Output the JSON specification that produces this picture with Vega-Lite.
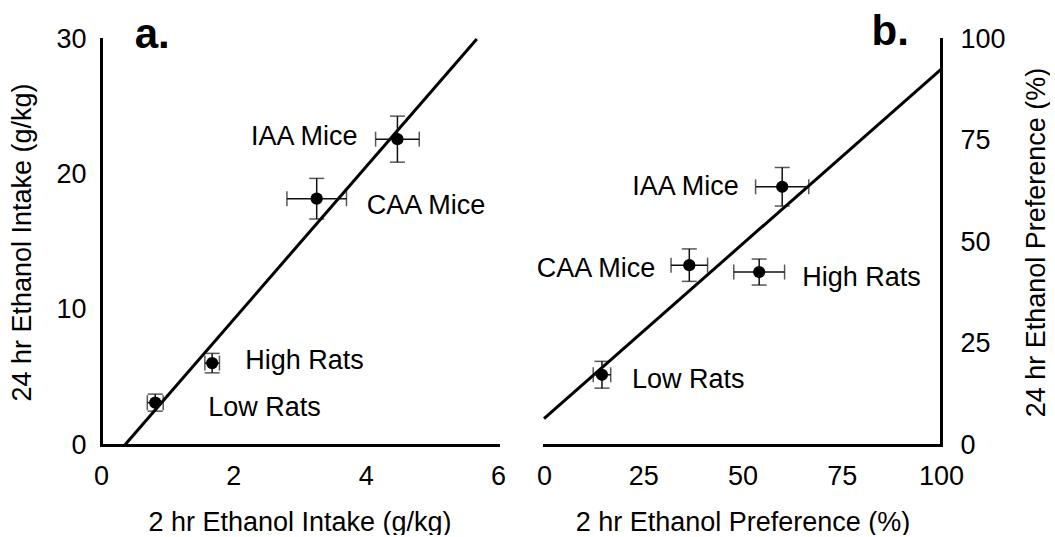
{
  "$schema": "https://vega.github.io/schema/vega-lite/v6.json",
  "background": "white",
  "padding": {"left": 8, "top": 11, "right": 0, "bottom": 0},
  "bounds": "flush",
  "spacing": 46,
  "config": {
    "view": {"stroke": null},
    "font": "Liberation Sans",
    "axis": {
      "domainColor": "black", "domainWidth": 3, "domainCap": "square", "ticks": false, "grid": false,
      "labelFontSize": 27, "labelColor": "black", "labelFont": "Liberation Sans",
      "titleFontSize": 27, "titleFontWeight": "normal", "titleColor": "black", "titleFont": "Liberation Sans",
      "labelFlush": false, "labelOverlap": false
    },
    "axisX": {"labelPadding": 18, "titlePadding": 20},
    "axisY": {"labelPadding": 15, "titlePadding": 19}
  },
  "datasets": {
    "a": [
      {"group": "IAA Mice", "x": 4.48, "xlo": 4.15, "xhi": 4.81, "y": 22.6, "ylo": 20.9, "yhi": 24.3},
      {"group": "CAA Mice", "x": 3.26, "xlo": 2.81, "xhi": 3.71, "y": 18.2, "ylo": 16.7, "yhi": 19.7},
      {"group": "High Rats", "x": 1.68, "xlo": 1.57, "xhi": 1.79, "y": 6.05, "ylo": 5.33, "yhi": 6.77},
      {"group": "Low Rats", "x": 0.82, "xlo": 0.7, "xhi": 0.94, "y": 3.13, "ylo": 2.5, "yhi": 3.76}
    ],
    "b": [
      {"group": "IAA Mice", "x": 60.0, "xlo": 53.3, "xhi": 66.7, "y": 63.6, "ylo": 58.85, "yhi": 68.35},
      {"group": "CAA Mice", "x": 36.6, "xlo": 32.0, "xhi": 41.2, "y": 44.3, "ylo": 40.3, "yhi": 48.3},
      {"group": "High Rats", "x": 54.2, "xlo": 47.8, "xhi": 60.6, "y": 42.6, "ylo": 39.4, "yhi": 45.8},
      {"group": "Low Rats", "x": 14.6, "xlo": 12.4, "xhi": 16.8, "y": 17.3, "ylo": 14.0, "yhi": 20.6}
    ],
    "lineA": [{"x": 0.36, "y": 0}, {"x": 5.68, "y": 30}],
    "lineB": [{"x": 0, "y": 6.5}, {"x": 100, "y": 92.5}],
    "lettersA": [{"letter": "a.", "x": 0.51, "y": 29.3}],
    "lettersB": [{"letter": "b.", "x": 82.5, "y": 98.5}]
  },
  "hconcat": [
    {
      "width": 397,
      "height": 406,
      "layer": [
        {
          "data": {"name": "lineA"},
          "mark": {"type": "line", "color": "black", "strokeWidth": 3},
          "encoding": {
            "x": {"field": "x", "type": "quantitative", "scale": {"domain": [0, 6], "nice": false}, "axis": {"title": "2 hr Ethanol Intake (g/kg)", "values": [0, 2, 4, 6], "format": "d"}},
            "y": {"field": "y", "type": "quantitative", "scale": {"domain": [0, 30], "nice": false}, "axis": {"title": "24 hr Ethanol Intake (g/kg)", "values": [0, 10, 20, 30], "format": "d"}}
          }
        },
        {
          "data": {"name": "a"},
          "mark": {"type": "rule", "color": "#111", "strokeWidth": 1.5},
          "encoding": {"x": {"field": "xlo", "type": "quantitative"}, "x2": {"field": "xhi"}, "y": {"field": "y", "type": "quantitative"}}
        },
        {
          "data": {"name": "a"},
          "mark": {"type": "rule", "color": "#111", "strokeWidth": 1.5},
          "encoding": {"y": {"field": "ylo", "type": "quantitative"}, "y2": {"field": "yhi"}, "x": {"field": "x", "type": "quantitative"}}
        },
        {
          "data": {"name": "a"},
          "transform": [{"fold": ["xlo", "xhi"], "as": ["k", "xc"]}],
          "mark": {"type": "tick", "orient": "vertical", "color": "#111", "size": 15, "thickness": 1.5},
          "encoding": {"x": {"field": "xc", "type": "quantitative"}, "y": {"field": "y", "type": "quantitative"}}
        },
        {
          "data": {"name": "a"},
          "transform": [{"fold": ["ylo", "yhi"], "as": ["k", "yc"]}],
          "mark": {"type": "tick", "orient": "horizontal", "color": "#111", "size": 15, "thickness": 1.5},
          "encoding": {"x": {"field": "x", "type": "quantitative"}, "y": {"field": "yc", "type": "quantitative"}}
        },
        {
          "data": {"name": "a"},
          "mark": {"type": "circle", "color": "black", "opacity": 1, "size": 150},
          "encoding": {"x": {"field": "x", "type": "quantitative"}, "y": {"field": "y", "type": "quantitative"}}
        },
        {
          "data": {"name": "a"},
          "transform": [{"filter": "datum.group === 'IAA Mice'"}],
          "mark": {"type": "text", "align": "right", "baseline": "alphabetic", "dx": -40, "dy": 6, "fontSize": 27, "color": "black"},
          "encoding": {"x": {"field": "x", "type": "quantitative"}, "y": {"field": "y", "type": "quantitative"}, "text": {"field": "group"}}
        },
        {
          "data": {"name": "a"},
          "transform": [{"filter": "datum.group === 'CAA Mice'"}],
          "mark": {"type": "text", "align": "left", "baseline": "alphabetic", "dx": 50, "dy": 15, "fontSize": 27, "color": "black"},
          "encoding": {"x": {"field": "x", "type": "quantitative"}, "y": {"field": "y", "type": "quantitative"}, "text": {"field": "group"}}
        },
        {
          "data": {"name": "a"},
          "transform": [{"filter": "datum.group === 'High Rats'"}],
          "mark": {"type": "text", "align": "left", "baseline": "alphabetic", "dx": 33, "dy": 6, "fontSize": 27, "color": "black"},
          "encoding": {"x": {"field": "x", "type": "quantitative"}, "y": {"field": "y", "type": "quantitative"}, "text": {"field": "group"}}
        },
        {
          "data": {"name": "a"},
          "transform": [{"filter": "datum.group === 'Low Rats'"}],
          "mark": {"type": "text", "align": "left", "baseline": "alphabetic", "dx": 53, "dy": 13.7, "fontSize": 27, "color": "black"},
          "encoding": {"x": {"field": "x", "type": "quantitative"}, "y": {"field": "y", "type": "quantitative"}, "text": {"field": "group"}}
        },
        {
          "data": {"name": "lettersA"},
          "mark": {"type": "text", "align": "left", "baseline": "alphabetic", "fontSize": 42, "fontWeight": "bold", "color": "black"},
          "encoding": {"x": {"field": "x", "type": "quantitative"}, "y": {"field": "y", "type": "quantitative"}, "text": {"field": "letter"}}
        }
      ]
    },
    {
      "width": 397,
      "height": 406,
      "layer": [
        {
          "data": {"name": "lineB"},
          "mark": {"type": "line", "color": "black", "strokeWidth": 3},
          "encoding": {
            "x": {"field": "x", "type": "quantitative", "scale": {"domain": [0, 100], "nice": false}, "axis": {"title": "2 hr Ethanol Preference (%)", "values": [0, 25, 50, 75, 100], "format": "d"}},
            "y": {"field": "y", "type": "quantitative", "scale": {"domain": [0, 100], "nice": false}, "axis": {"title": "24 hr Ethanol Preference (%)", "orient": "right", "titleAngle": 270, "titleBaseline": "top", "labelPadding": 19, "titlePadding": 18, "values": [0, 25, 50, 75, 100], "format": "d"}}
          }
        },
        {
          "data": {"name": "b"},
          "mark": {"type": "rule", "color": "#111", "strokeWidth": 1.5},
          "encoding": {"x": {"field": "xlo", "type": "quantitative"}, "x2": {"field": "xhi"}, "y": {"field": "y", "type": "quantitative"}}
        },
        {
          "data": {"name": "b"},
          "mark": {"type": "rule", "color": "#111", "strokeWidth": 1.5},
          "encoding": {"y": {"field": "ylo", "type": "quantitative"}, "y2": {"field": "yhi"}, "x": {"field": "x", "type": "quantitative"}}
        },
        {
          "data": {"name": "b"},
          "transform": [{"fold": ["xlo", "xhi"], "as": ["k", "xc"]}],
          "mark": {"type": "tick", "orient": "vertical", "color": "#111", "size": 15, "thickness": 1.5},
          "encoding": {"x": {"field": "xc", "type": "quantitative"}, "y": {"field": "y", "type": "quantitative"}}
        },
        {
          "data": {"name": "b"},
          "transform": [{"fold": ["ylo", "yhi"], "as": ["k", "yc"]}],
          "mark": {"type": "tick", "orient": "horizontal", "color": "#111", "size": 15, "thickness": 1.5},
          "encoding": {"x": {"field": "x", "type": "quantitative"}, "y": {"field": "yc", "type": "quantitative"}}
        },
        {
          "data": {"name": "b"},
          "mark": {"type": "circle", "color": "black", "opacity": 1, "size": 150},
          "encoding": {"x": {"field": "x", "type": "quantitative"}, "y": {"field": "y", "type": "quantitative"}}
        },
        {
          "data": {"name": "b"},
          "transform": [{"filter": "datum.group === 'IAA Mice'"}],
          "mark": {"type": "text", "align": "right", "baseline": "alphabetic", "dx": -43.5, "dy": 8, "fontSize": 27, "color": "black"},
          "encoding": {"x": {"field": "x", "type": "quantitative"}, "y": {"field": "y", "type": "quantitative"}, "text": {"field": "group"}}
        },
        {
          "data": {"name": "b"},
          "transform": [{"filter": "datum.group === 'CAA Mice'"}],
          "mark": {"type": "text", "align": "right", "baseline": "alphabetic", "dx": -34, "dy": 11.5, "fontSize": 27, "color": "black"},
          "encoding": {"x": {"field": "x", "type": "quantitative"}, "y": {"field": "y", "type": "quantitative"}, "text": {"field": "group"}}
        },
        {
          "data": {"name": "b"},
          "transform": [{"filter": "datum.group === 'High Rats'"}],
          "mark": {"type": "text", "align": "left", "baseline": "alphabetic", "dx": 43, "dy": 14, "fontSize": 27, "color": "black"},
          "encoding": {"x": {"field": "x", "type": "quantitative"}, "y": {"field": "y", "type": "quantitative"}, "text": {"field": "group"}}
        },
        {
          "data": {"name": "b"},
          "transform": [{"filter": "datum.group === 'Low Rats'"}],
          "mark": {"type": "text", "align": "left", "baseline": "alphabetic", "dx": 30, "dy": 13.4, "fontSize": 27, "color": "black"},
          "encoding": {"x": {"field": "x", "type": "quantitative"}, "y": {"field": "y", "type": "quantitative"}, "text": {"field": "group"}}
        },
        {
          "data": {"name": "lettersB"},
          "mark": {"type": "text", "align": "left", "baseline": "alphabetic", "fontSize": 42, "fontWeight": "bold", "color": "black"},
          "encoding": {"x": {"field": "x", "type": "quantitative"}, "y": {"field": "y", "type": "quantitative"}, "text": {"field": "letter"}}
        }
      ]
    }
  ]
}
